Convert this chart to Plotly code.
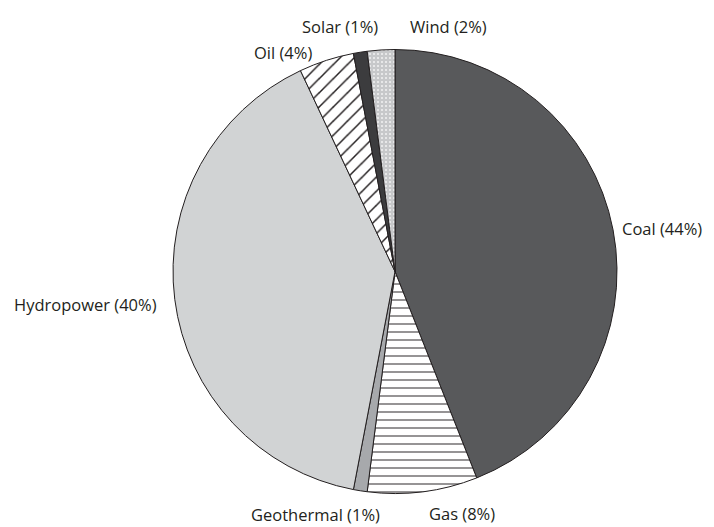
import plotly.graph_objects as go

labels = ["Coal", "Gas", "Geothermal", "Hydropower", "Oil", "Solar", "Wind"]
values = [44, 8, 1, 40, 4, 1, 2]
colors = ["#58595b", "#ffffff", "#a7a9ac", "#d1d3d4", "#ffffff", "#3c3c3e", "#c7c8ca"]
shapes = ["", "-", "", "", "/", "", "."]
fgcolors = ["#000000", "#231f20", "#000000", "#000000", "#231f20", "#000000", "#f2f2f2"]

texts = [f"{l} ({v}%)" for l, v in zip(labels, values)]

W, H = 714, 527
OFF = 8  # page body margin offset
# label anchor positions in screen pixels (layout only)
label_pos = [(662, 228), (462, 513), (315, 514), (85, 304), (283, 52), (340, 27), (448, 27)]

fig = go.Figure(go.Pie(
    labels=labels,
    values=values,
    textinfo="none",
    sort=False,
    direction="clockwise",
    rotation=0,
    domain=dict(x=[(173 - OFF) / W, (617 - OFF) / W],
                y=[1 - (494 - OFF) / H, 1 - (49 - OFF) / H]),
    marker=dict(
        colors=colors,
        line=dict(color="#231f20", width=1),
        pattern=dict(
            shape=shapes,
            fgcolor=fgcolors,
            bgcolor=colors,
            size=[8, 8, 8, 8, 10, 8, 4],
            solidity=[0.2, 0.12, 0.2, 0.2, 0.15, 0.2, 0.2],
        ),
    ),
    showlegend=False,
    hoverinfo="label+percent",
))

for t, (px, py) in zip(texts, label_pos):
    fig.add_annotation(
        x=(px - OFF) / W, y=1 - (py - OFF) / H, xref="paper", yref="paper",
        text=t, showarrow=False, xanchor="center", yanchor="middle",
        font=dict(family="Open Sans", size=16.5, color="#231f20"),
    )

fig.update_layout(
    width=W, height=H,
    margin=dict(l=0, r=0, t=0, b=0),
    paper_bgcolor="white",
    plot_bgcolor="white",
)

fig.write_html("out.html")
